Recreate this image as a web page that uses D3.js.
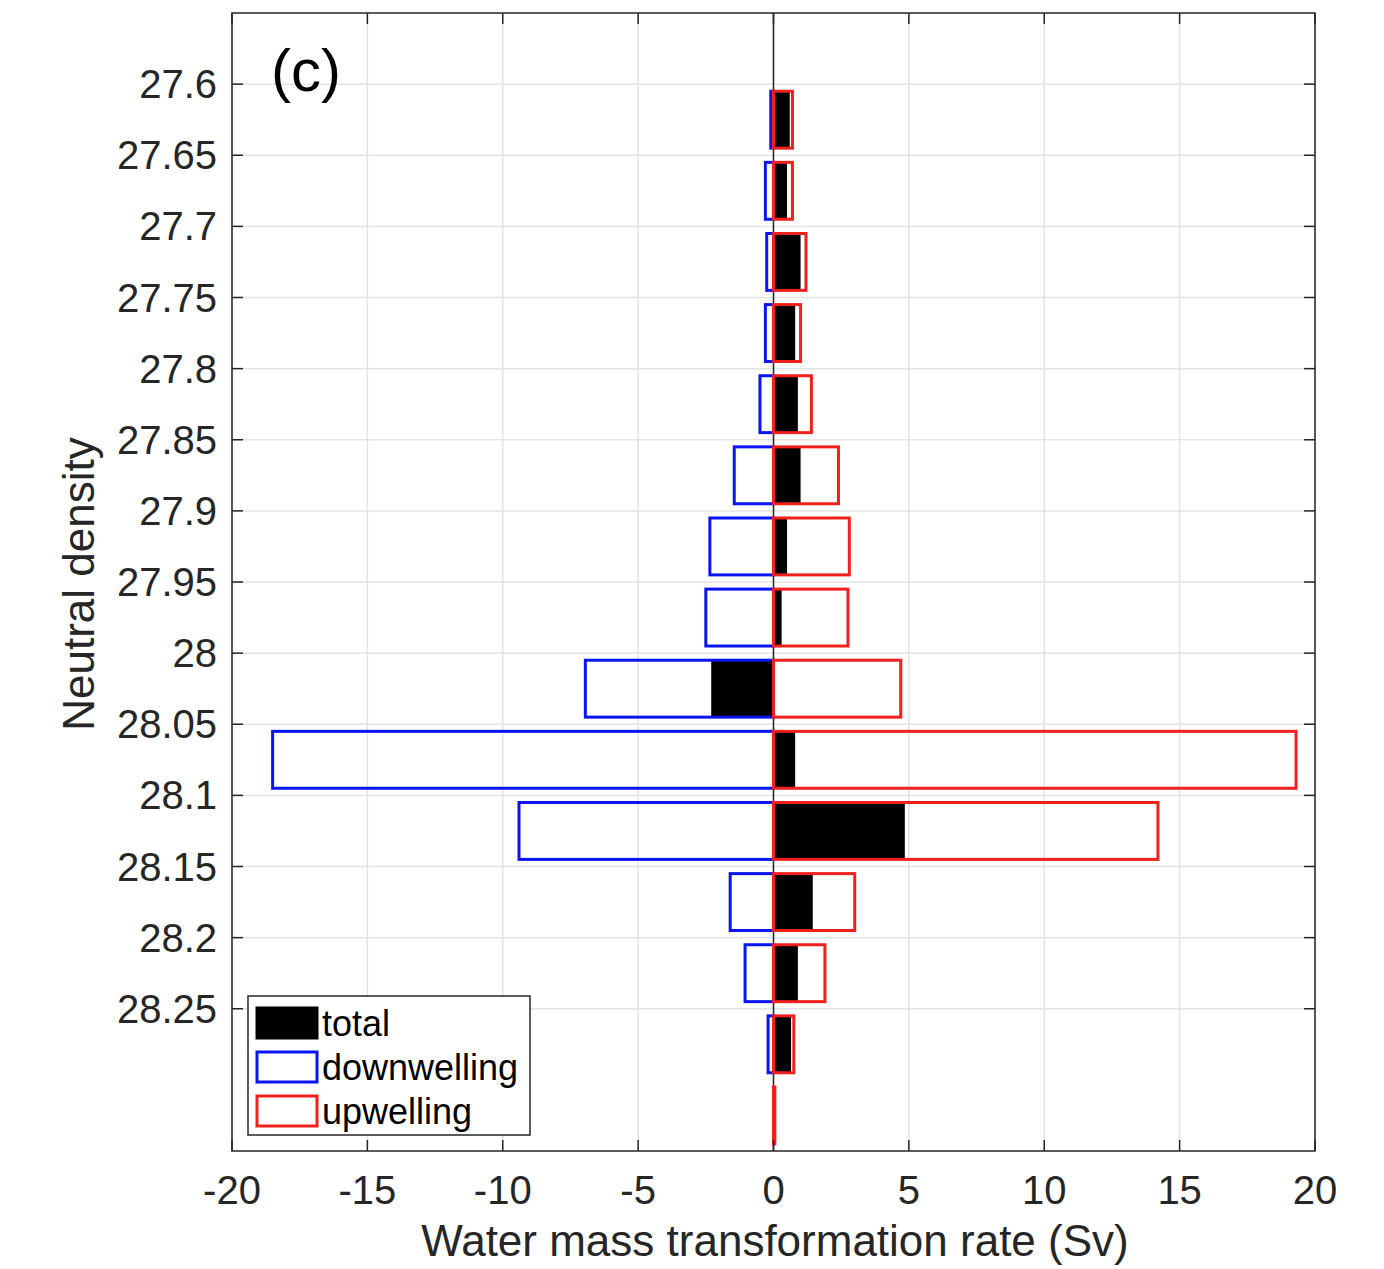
<!DOCTYPE html>
<html lang="en">
<head>
    <meta charset="UTF-8">
    <title>Water mass transformation rate</title>
    <script src="https://d3js.org/d3.v7.min.js"></script>
    <style>
        body { margin: 0; background: #fff; font-family: "Liberation Sans", Arial, sans-serif; }
        .grid line { stroke: #e3e3e3; stroke-width: 1.5px; }
    </style>
</head>
<body>
    <div id="chart"></div>
    <script>
        // bin centres (neutral density) and rates in Sv
        const density = [27.625, 27.675, 27.725, 27.775, 27.825, 27.875, 27.925, 27.975,
                         28.025, 28.075, 28.125, 28.175, 28.225, 28.275, 28.325];
        const total = [0.6, 0.5, 1.0, 0.8, 0.9, 1.0, 0.5, 0.3, -2.3, 0.8, 4.85, 1.45, 0.9, 0.65, 0];
        const downwelling = [-0.1, -0.3, -0.25, -0.3, -0.5, -1.45, -2.35, -2.5, -6.95, -18.5, -9.4, -1.6, -1.05, -0.2, 0];
        const upwelling = [0.7, 0.7, 1.2, 1.0, 1.4, 2.4, 2.8, 2.75, 4.7, 19.3, 14.2, 3.0, 1.9, 0.75, 0.05];

        const xTicks = [-20, -15, -10, -5, 0, 5, 10, 15, 20];
        const yTicks = [27.6, 27.65, 27.7, 27.75, 27.8, 27.85, 27.9, 27.95, 28, 28.05, 28.1, 28.15, 28.2, 28.25];

        const width = 1384, height = 1269;
        const pLeft = 232, pRight = 1315, pTop = 13, pBottom = 1151;
        const binW = 0.05, barFrac = 0.8;

        const svg = d3.select("#chart").append("svg")
            .attr("width", width).attr("height", height);

        const x = d3.scaleLinear().domain([-20, 20]).range([pLeft, pRight]);
        const y = d3.scaleLinear().domain([27.55, 28.35]).range([pTop, pBottom]);

        // grid
        const grid = svg.append("g").attr("class", "grid");
        grid.selectAll(".gx").data(xTicks).enter().append("line")
            .attr("x1", d => x(d)).attr("x2", d => x(d))
            .attr("y1", pTop).attr("y2", pBottom);
        grid.selectAll(".gy").data(yTicks).enter().append("line")
            .attr("x1", pLeft).attr("x2", pRight)
            .attr("y1", d => y(d)).attr("y2", d => y(d));

        const bh = y(27.55 + binW * barFrac) - y(27.55);
        const rows = density.map((d, i) => ({ d, t: total[i], dn: downwelling[i], up: upwelling[i] }));

        // total (filled)
        svg.append("g").selectAll("rect").data(rows).enter().append("rect")
            .attr("x", r => x(Math.min(0, r.t)))
            .attr("width", r => Math.abs(x(r.t) - x(0)))
            .attr("y", r => y(r.d) - bh / 2)
            .attr("height", bh)
            .attr("fill", "#000");

        // zero line
        svg.append("line")
            .attr("x1", x(0)).attr("x2", x(0))
            .attr("y1", pTop).attr("y2", pBottom)
            .attr("stroke", "#262626").attr("stroke-width", 1.5);

        // downwelling outlines
        svg.append("g").selectAll("rect").data(rows.filter(r => r.dn !== 0)).enter().append("rect")
            .attr("x", r => x(r.dn))
            .attr("width", r => x(0) - x(r.dn))
            .attr("y", r => y(r.d) - bh / 2)
            .attr("height", bh)
            .attr("fill", "none").attr("stroke", "#0a14f0").attr("stroke-width", 3);

        // upwelling outlines
        svg.append("g").selectAll("rect").data(rows).enter().append("rect")
            .attr("x", x(0))
            .attr("width", r => x(r.up) - x(0))
            .attr("y", r => y(r.d) - bh / 2)
            .attr("height", bh)
            .attr("fill", "none").attr("stroke", "#f0201e").attr("stroke-width", 3);

        // axes box with inward ticks
        const box = svg.append("g");
        box.append("rect").attr("x", pLeft).attr("y", pTop)
            .attr("width", pRight - pLeft).attr("height", pBottom - pTop)
            .attr("fill", "none").attr("stroke", "#262626").attr("stroke-width", 1.5);

        const tl = 11;
        xTicks.forEach(t => {
            box.append("line").attr("x1", x(t)).attr("x2", x(t)).attr("y1", pBottom).attr("y2", pBottom - tl)
                .attr("stroke", "#262626").attr("stroke-width", 1.5);
            box.append("line").attr("x1", x(t)).attr("x2", x(t)).attr("y1", pTop).attr("y2", pTop + tl)
                .attr("stroke", "#262626").attr("stroke-width", 1.5);
        });
        yTicks.forEach(t => {
            box.append("line").attr("x1", pLeft).attr("x2", pLeft + tl).attr("y1", y(t)).attr("y2", y(t))
                .attr("stroke", "#262626").attr("stroke-width", 1.5);
            box.append("line").attr("x1", pRight).attr("x2", pRight - tl).attr("y1", y(t)).attr("y2", y(t))
                .attr("stroke", "#262626").attr("stroke-width", 1.5);
        });

        svg.append("g").selectAll("text").data(xTicks).enter().append("text")
            .attr("x", d => x(d)).attr("y", 1204)
            .attr("text-anchor", "middle").attr("font-size", 40).attr("fill", "#262626")
            .text(d => d);
        svg.append("g").selectAll("text").data(yTicks).enter().append("text")
            .attr("x", 217).attr("y", d => y(d) + 14)
            .attr("text-anchor", "end").attr("font-size", 40).attr("fill", "#262626")
            .text(d => d);

        svg.append("text").attr("x", 775).attr("y", 1256)
            .attr("text-anchor", "middle").attr("font-size", 44).attr("fill", "#262626")
            .text("Water mass transformation rate (Sv)");
        svg.append("text").attr("transform", "translate(94,584) rotate(-90)")
            .attr("text-anchor", "middle").attr("font-size", 44).attr("fill", "#262626")
            .text("Neutral density");

        svg.append("text").attr("x", 271).attr("y", 91)
            .attr("font-size", 60).attr("fill", "#000").text("(c)");

        // legend
        const lg = svg.append("g");
        lg.append("rect").attr("x", 248).attr("y", 996).attr("width", 282).attr("height", 139)
            .attr("fill", "#fff").attr("stroke", "#262626").attr("stroke-width", 1.5);
        const items = [
            { label: "total", fill: "#000", stroke: "#000" },
            { label: "downwelling", fill: "#fff", stroke: "#0a14f0" },
            { label: "upwelling", fill: "#fff", stroke: "#f0201e" }
        ];
        items.forEach((it, i) => {
            const yy = 1008 + i * 44;
            lg.append("rect").attr("x", 257).attr("y", yy).attr("width", 60).attr("height", 30)
                .attr("fill", it.fill).attr("stroke", it.stroke).attr("stroke-width", 3);
            lg.append("text").attr("x", 322).attr("y", yy + 28)
                .attr("font-size", 36).attr("fill", "#000").text(it.label);
        });
    </script>
</body>
</html>
